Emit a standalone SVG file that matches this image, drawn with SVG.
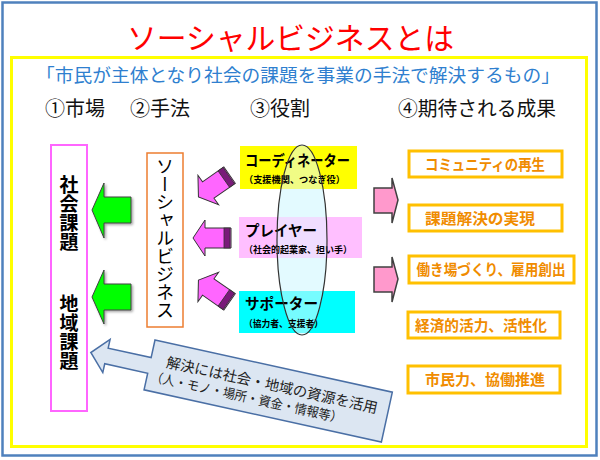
<svg xmlns="http://www.w3.org/2000/svg" width="600" height="460" viewBox="0 0 600 460">
<style>
  text { font-family: "Noto Sans CJK JP", "Noto Sans", sans-serif; }
  .hdr { font-size: 20px; fill: #111; }
  .vt { writing-mode: vertical-rl; }
  .role { font-size: 15px; fill: #000; font-weight: bold; }
  .rsub { font-size: 9.5px; fill: #000; font-weight: bold; }
  .res rect { fill: #fff; stroke: #FFC000; stroke-width: 3; }
  .res text { font-size: 15px; font-weight: bold; fill: #F08C00; text-anchor: middle; }
  .garrow { fill: #00FF00; stroke: #404040; stroke-width: 1; filter: url(#sh); }
  .marrow { fill: #FF66FF; stroke: #333; stroke-width: 1; }
  .parrow { fill: #FF99CC; stroke: #404040; stroke-width: 1.5; }
</style>
<defs>
  <filter id="sh" x="-20%" y="-20%" width="140%" height="140%">
    <feDropShadow dx="1.5" dy="1.5" stdDeviation="1" flood-color="#000" flood-opacity="0.35"/>
  </filter>
  <mask id="ellHole" maskUnits="userSpaceOnUse" x="0" y="0" width="600" height="460">
    <rect width="600" height="460" fill="#fff"/>
    <ellipse cx="302" cy="240" rx="25" ry="95" fill="#7a7a7a"/>
  </mask>
  <g id="marrowShape">
    <path d="M-19,0 L-7,-18 L-7,-10 L19,-10 L19,10 L-7,10 L-7,18 Z"/>
    <rect x="12" y="-10" width="6" height="20" fill="#7a1a7a" stroke="#333" stroke-width="0.8"/>
  </g>
</defs>

<rect x="0" y="0" width="600" height="460" fill="#fff"/>
<rect x="2.5" y="2.5" width="594" height="453" fill="none" stroke="#4F81BD" stroke-width="2.5"/>
<rect x="11.5" y="57.5" width="575" height="389" fill="none" stroke="#FFFF00" stroke-width="3"/>

<g id="title">
  <text x="127" y="49" font-size="30" fill="#FF0000" textLength="327" lengthAdjust="spacingAndGlyphs">ソーシャルビジネスとは</text>
</g>
<g id="subtitle">
  <text x="36" y="82" font-size="18.5" fill="#2F7FCF" textLength="524" lengthAdjust="spacingAndGlyphs">「市民が主体となり社会の課題を事業の手法で解決するもの」</text>
</g>
<g id="headers">
  <text class="hdr" x="45" y="116">①市場</text>
  <text class="hdr" x="130" y="116">②手法</text>
  <text class="hdr" x="250" y="116">③役割</text>
  <text class="hdr" x="398" y="116" textLength="158" lengthAdjust="spacingAndGlyphs">④期待される成果</text>
</g>

<g id="market">
  <rect x="51" y="145" width="36" height="266" fill="#fff" stroke="#FF66FF" stroke-width="2"/>
  <text class="vt" x="69" y="175" font-size="19" font-weight="bold" fill="#000">社会課題</text>
  <text class="vt" x="69" y="294" font-size="19" font-weight="bold" fill="#000">地域課題</text>
</g>

<g id="method">
  <rect x="147" y="153" width="36" height="174" fill="#fff" stroke="#ED7D31" stroke-width="1.5"/>
  <text class="vt" x="165" y="157" font-size="18" fill="#000">ソーシャルビジネス</text>
</g>

<g id="ellipse-bg">
  <ellipse cx="302" cy="240" rx="25" ry="95" fill="#E3FAFF"/>
</g>

<g id="coordinator">
  <rect x="240" y="146" width="117" height="43" fill="#FFFF00" mask="url(#ellHole)"/>
  <text class="role" x="245" y="166" textLength="105" lengthAdjust="spacingAndGlyphs">コーディネーター</text>
  <text class="rsub" x="244" y="183" textLength="101" lengthAdjust="spacingAndGlyphs">（支援機関、つなぎ役）</text>
</g>
<g id="player">
  <rect x="239" y="217" width="123" height="41" fill="#FFBFFF" mask="url(#ellHole)"/>
  <text class="role" x="245" y="236" textLength="72" lengthAdjust="spacingAndGlyphs">プレイヤー</text>
  <text class="rsub" x="244" y="253" textLength="108" lengthAdjust="spacingAndGlyphs">（社会的起業家、担い手）</text>
</g>
<g id="supporter">
  <rect x="239" y="291" width="116" height="42" fill="#00FFFF" mask="url(#ellHole)"/>
  <text class="role" x="245" y="309" textLength="73" lengthAdjust="spacingAndGlyphs">サポーター</text>
  <text class="rsub" x="244" y="327" textLength="79" lengthAdjust="spacingAndGlyphs">（協力者、支援者）</text>
</g>

<g id="ellipse-outline">
  <ellipse cx="302" cy="240" rx="25" ry="95" fill="none" stroke="#333" stroke-width="1.2"/>
</g>

<g id="res1" class="res">
  <rect x="409" y="151" width="153" height="26"/>
  <text x="485" y="169.5" textLength="120" lengthAdjust="spacingAndGlyphs">コミュニティの再生</text>
</g>
<g id="res2" class="res">
  <rect x="409" y="205" width="153" height="26"/>
  <text x="480" y="223.5" textLength="110" lengthAdjust="spacingAndGlyphs">課題解決の実現</text>
</g>
<g id="res3" class="res">
  <rect x="409" y="256" width="165" height="27"/>
  <text x="491" y="275" textLength="149" lengthAdjust="spacingAndGlyphs">働き場づくり、雇用創出</text>
</g>
<g id="res4" class="res">
  <rect x="408" y="312" width="152" height="26"/>
  <text x="481" y="330.5" textLength="132" lengthAdjust="spacingAndGlyphs">経済的活力、活性化</text>
</g>
<g id="res5" class="res">
  <rect x="408" y="366" width="152" height="27"/>
  <text x="485" y="385" textLength="120" lengthAdjust="spacingAndGlyphs">市民力、協働推進</text>
</g>

<g id="resources">
  <g transform="translate(155,340) rotate(12.4)">
    <path d="M0,0 L243,0 L243,51 L0,51 L0,34 L-44,34 L-44,43 L-60,26 L-44,9 L-44,18 L0,18 Z" fill="#DCE6F2" stroke="#4A6FA5" stroke-width="1.5"/>
    <text x="16" y="24" font-size="14.5" fill="#222" textLength="216" lengthAdjust="spacingAndGlyphs">解決には社会・地域の資源を活用</text>
    <text x="4" y="41" font-size="13" fill="#222" textLength="196" lengthAdjust="spacingAndGlyphs">（人・モノ・場所・資金・情報等）</text>
  </g>
</g>

<g id="connectors">
  <path class="garrow" d="M92,210 L104,183 L104,197 L131,197 L131,223 L104,223 L104,238 Z"/>
  <path class="garrow" d="M92,297 L104,270 L104,284 L131,284 L131,310 L104,310 L104,324 Z"/>
  <use href="#marrowShape" class="marrow" transform="translate(214,186) rotate(-35)"/>
  <use href="#marrowShape" class="marrow" transform="translate(212,238)"/>
  <use href="#marrowShape" class="marrow" transform="translate(214,291) rotate(35)"/>
  <path class="parrow" d="M374,188 L392,188 L392,178 L398,200 L392,223 L392,213 L374,213 Z"/>
  <path class="parrow" d="M374,267 L392,267 L392,257 L398,279 L392,302 L392,292 L374,292 Z"/>
</g>
</svg>
